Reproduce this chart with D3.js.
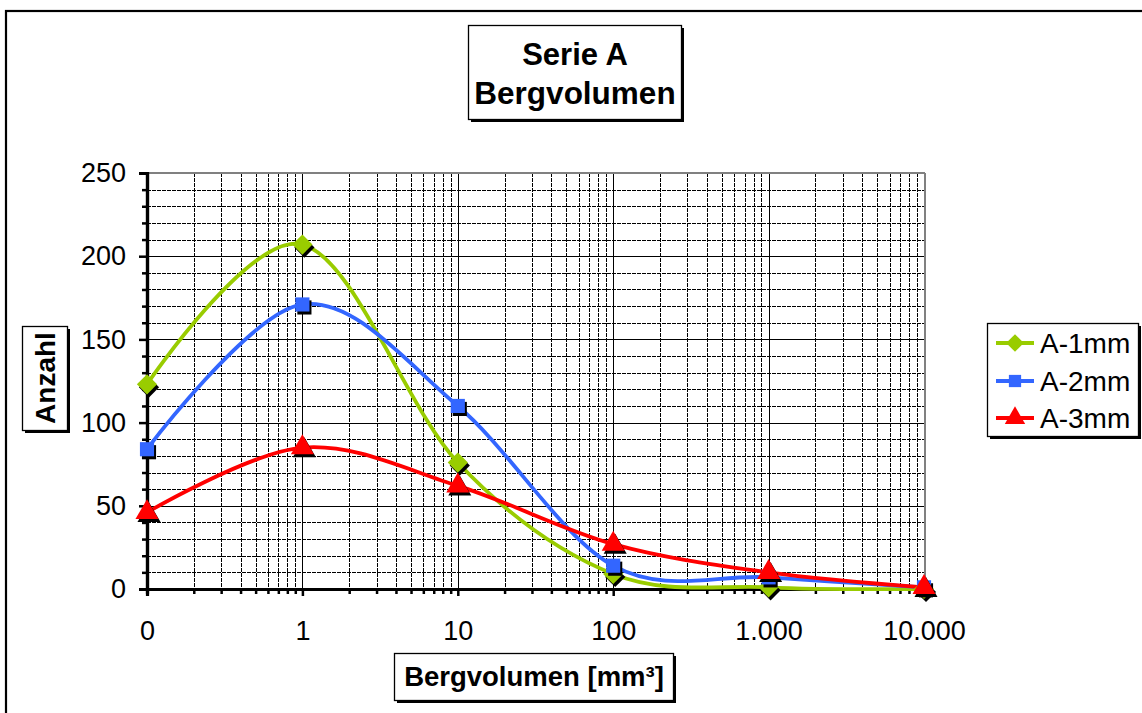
<!DOCTYPE html>
<html><head><meta charset="utf-8">
<script src="https://cdn.jsdelivr.net/npm/d3@7"></script>
<style>
html,body{margin:0;padding:0;background:#fff;}
svg{display:block;font-family:"Liberation Sans",Arial,sans-serif;}
</style></head>
<body><svg id="c" width="1142" height="713"></svg>
<script>
// ---- data ----
const xValues = [0.1, 1, 10, 100, 1000, 10000];
const xTickLabels = ["0", "1", "10", "100", "1.000", "10.000"];
const yTickValues = [0, 50, 100, 150, 200, 250];
const seriesNames = ["A-1mm", "A-2mm", "A-3mm"];
const a1mm = [123, 207, 76, 9, 1, 0];
const a2mm = [84, 171, 110, 14, 7, 1];
const a3mm = [46, 85, 62, 27, 10, 1];
const seriesColors = ["#99cc00", "#3366ff", "#ff0000"];
const seriesMarkers = ["diamond", "square", "triangle"];
const titleLines = ["Serie A", "Bergvolumen"];
const xTitle = "Bergvolumen [mm³]";
const yTitle = "Anzahl";

const svg = d3.select("#c");
const L = 147, R = 924, T = 173, B = 589;
const x = d3.scaleLog().domain([0.1, 10000]).range([L, R]);
const y = d3.scaleLinear().domain([0, 250]).range([B, T]);
const px = v => Math.round(v) + 0.5;

// outer chart border
svg.append("rect").attr("x", 6).attr("y", 11).attr("width", 1200).attr("height", 800)
  .attr("fill", "#fff").attr("stroke", "#000").attr("stroke-width", 2.2);

// framed text box with shadow
function box(x0, y0, w, h) {
  svg.append("rect").attr("x", x0 + 3).attr("y", y0 + 3).attr("width", w).attr("height", h).attr("fill", "#000");
  svg.append("rect").attr("x", x0 + 0.5).attr("y", y0 + 0.5).attr("width", w).attr("height", h)
    .attr("fill", "#fff").attr("stroke", "#000").attr("stroke-width", 1.3);
}

// grid
const g = svg.append("g").attr("shape-rendering", "crispEdges");
const yMinor = d3.range(0, 251, 10);
yMinor.forEach(v => {
  const major = v % 50 === 0;
  g.append("line").attr("x1", L).attr("x2", R).attr("y1", px(y(v))).attr("y2", px(y(v)))
    .attr("stroke", "#000").attr("stroke-width", 1)
    .attr("stroke-dasharray", major ? null : "4,1");
});
const xAll = x.ticks();
const isDecade = v => Math.abs(Math.log10(v) - Math.round(Math.log10(v))) < 1e-9;
xAll.forEach(v => {
  const major = isDecade(v);
  g.append("line").attr("x1", px(x(v))).attr("x2", px(x(v))).attr("y1", T).attr("y2", B)
    .attr("stroke", "#000").attr("stroke-width", 1)
    .attr("stroke-dasharray", major ? null : "4,1");
});

// plot border top/right
svg.append("line").attr("x1", L).attr("x2", R + 1).attr("y1", T).attr("y2", T).attr("stroke", "#808080").attr("stroke-width", 2);
svg.append("line").attr("x1", R + 1).attr("x2", R + 1).attr("y1", T).attr("y2", B).attr("stroke", "#808080").attr("stroke-width", 2);

// axes
const fs = 27;
const yMinorAx = svg.append("g").attr("transform", `translate(${L},0)`)
  .call(d3.axisLeft(y).tickValues(yMinor.filter(v => v % 50)).tickSize(5).tickFormat(""));
const yMajorAx = svg.append("g").attr("transform", `translate(${L},0)`)
  .call(d3.axisLeft(y).tickValues(yTickValues).tickSize(8).tickPadding(13));
[yMinorAx, yMajorAx].forEach(a => {
  a.select(".domain").attr("stroke", "#000").attr("stroke-width", 3.2);
  a.selectAll(".tick line").attr("stroke", "#000").attr("stroke-width", 2.5);
});
yMajorAx.selectAll("text").attr("font-size", fs).attr("fill", "#000")
  .attr("font-family", "Liberation Sans, Arial, sans-serif");

const xMinorAx = svg.append("g").attr("transform", `translate(0,${B})`)
  .call(d3.axisBottom(x).tickValues(xAll.filter(v => !isDecade(v))).tickSize(5).tickFormat(""));
const xMajorAx = svg.append("g").attr("transform", `translate(0,${B})`)
  .call(d3.axisBottom(x).tickValues(xValues).tickSize(7).tickPadding(25)
    .tickFormat((d, i) => xTickLabels[i]));
[xMinorAx, xMajorAx].forEach(a => {
  a.select(".domain").attr("stroke", "#000").attr("stroke-width", 3.2);
  a.selectAll(".tick line").attr("stroke", "#000").attr("stroke-width", 2.5);
});
xMajorAx.selectAll("text").attr("font-size", fs).attr("fill", "#000")
  .attr("font-family", "Liberation Sans, Arial, sans-serif");

// series
const data = [a1mm, a2mm, a3mm];
const line = d3.line().x((d, i) => x(xValues[i])).y(d => y(d)).curve(d3.curveCatmullRom.alpha(0));
const sym = {
  diamond: d3.symbol().type(d3.symbolDiamond2).size(260),
  square: d3.symbol().type(d3.symbolSquare).size(200),
  triangle: d3.symbol().type(d3.symbolTriangle).size(230)
};
const plot = svg.append("g");
data.forEach((vals, s) => {
  plot.append("path").attr("d", line(vals)).attr("fill", "none")
    .attr("stroke", seriesColors[s]).attr("stroke-width", 3.8).attr("stroke-linejoin", "round");
});
data.forEach((vals, s) => {
  vals.forEach((v, i) => {
    const cx = x(xValues[i]), cy = y(v);
    plot.append("path").attr("d", sym[seriesMarkers[s]]()).attr("fill", "#000")
      .attr("transform", `translate(${cx + 2},${cy + 3})`);
    plot.append("path").attr("d", sym[seriesMarkers[s]]()).attr("fill", seriesColors[s])
      .attr("transform", `translate(${cx},${cy})`);
  });
});

// title
box(468, 25, 213, 94);
svg.append("text").attr("x", 575).attr("y", 65).attr("text-anchor", "middle")
  .attr("font-size", 31).attr("font-weight", "bold").text(titleLines[0]);
svg.append("text").attr("x", 575).attr("y", 104).attr("text-anchor", "middle")
  .attr("font-size", 31.5).attr("font-weight", "bold").text(titleLines[1]);

// x title
box(394, 653, 279, 47);
svg.append("text").attr("x", 534).attr("y", 686).attr("text-anchor", "middle")
  .attr("font-size", 27.5).attr("font-weight", "bold").text(xTitle);

// y title
box(22, 326, 45, 104);
svg.append("text").attr("transform", "translate(55,378) rotate(-90)").attr("text-anchor", "middle")
  .attr("font-size", 28).attr("font-weight", "bold").text(yTitle);

// legend
box(987, 323, 151, 113);
const legRows = [343, 381, 418];
const legSym = {
  diamond: d3.symbol().type(d3.symbolDiamond2).size(200),
  square: d3.symbol().type(d3.symbolSquare).size(150),
  triangle: d3.symbol().type(d3.symbolTriangle).size(180)
};
seriesNames.forEach((n, s) => {
  const ly = legRows[s];
  svg.append("line").attr("x1", 996).attr("x2", 1034).attr("y1", ly).attr("y2", ly)
    .attr("stroke", seriesColors[s]).attr("stroke-width", 3.8);
  svg.append("path").attr("d", legSym[seriesMarkers[s]]()).attr("fill", seriesColors[s])
    .attr("transform", `translate(1015,${ly})`);
  svg.append("text").attr("x", 1040).attr("y", ly).attr("dy", "0.36em")
    .attr("font-size", 28).text(n);
});
</script></body></html>
